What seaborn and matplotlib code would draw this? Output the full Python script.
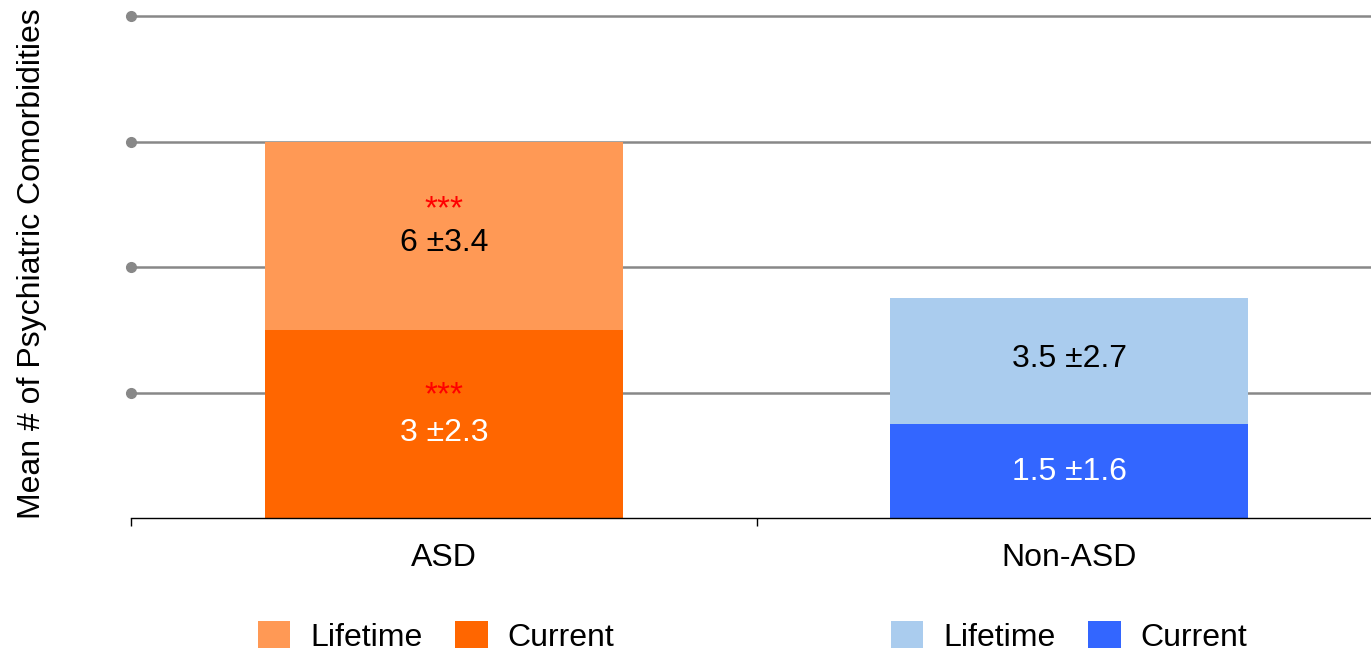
import matplotlib
matplotlib.use('Agg')
import matplotlib.pyplot as plt
from matplotlib.patches import Patch
import seaborn as sns

groups = ['ASD', 'Non-ASD']
lifetime_mean = [6, 3.5]
lifetime_sd = [3.4, 2.7]
current_mean = [3, 1.5]
current_sd = [2.3, 1.6]
sig_stars = ['***', '']

lifetime_colors = ['#FF9955', '#AACCEE']
current_colors = ['#FF6600', '#3366FF']

sns.set_style('white')
plt.rcParams['font.family'] = ['Liberation Sans', 'DejaVu Sans']
plt.rcParams['text.color'] = 'black'
plt.rcParams['xtick.color'] = 'black'
plt.rcParams['xtick.labelcolor'] = 'black'

fig = plt.figure(figsize=(13.71, 6.53), dpi=100)
ax = fig.add_axes([131 / 1371, 135 / 653, 1251 / 1371, 502 / 653])

# lifetime drawn full height, current on top of it
sns.barplot(x=groups, y=lifetime_mean, hue=groups, palette=lifetime_colors,
            width=0.573, saturation=1, legend=False, ax=ax, zorder=2,
            linewidth=0, edgecolor='none')
sns.barplot(x=groups, y=current_mean, hue=groups, palette=current_colors,
            width=0.573, saturation=1, legend=False, ax=ax, zorder=3,
            linewidth=0, edgecolor='none')

ax.set_xlim(-0.5, 1.5)
ax.set_ylim(0, 8)

grid_y = [2, 4, 6, 8]
ax.hlines(grid_y, -0.5, 1.5, color='#888888', lw=1.8, zorder=1, clip_on=False)
ax.plot([-0.5] * len(grid_y), grid_y, 'o', color='#888888', ms=7,
        zorder=1, clip_on=False)

for sp in ['left', 'right', 'top']:
    ax.spines[sp].set_visible(False)
ax.spines['bottom'].set_color('black')
ax.spines['bottom'].set_linewidth(1.0)
ax.spines['bottom'].set_zorder(4)

ax.set_yticks([])
ax.set_xticks([0, 1])
ax.set_xticklabels(groups, fontsize=23, color='black')
ax.set_xticks([-0.5, 0.5, 1.5], minor=True)
ax.tick_params(axis='x', which='major', length=0, pad=18)
ax.tick_params(axis='x', which='minor', length=6, width=1, color='black',
               direction='out', bottom=True)
ax.set_xlabel('')
ax.set_ylabel('')

# value labels
for i, g in enumerate(groups):
    lt_mid = (lifetime_mean[i] + current_mean[i]) / 2
    cu_mid = current_mean[i] / 2
    if sig_stars[i]:
        ax.text(i, lt_mid + 0.42, sig_stars[i], color='red', fontsize=24,
                ha='center', va='center', zorder=5)
        ax.text(i, cu_mid + 0.45, sig_stars[i], color='red', fontsize=24,
                ha='center', va='center', zorder=5)
        lt_y, cu_y = lt_mid - 0.12, cu_mid - 0.14
    else:
        lt_y, cu_y = lt_mid + 0.04, cu_mid - 0.01
    ax.text(i, lt_y, f'{lifetime_mean[i]:g} \u00b1{lifetime_sd[i]}',
            color='black', fontsize=23, ha='center', va='center', zorder=5)
    ax.text(i, cu_y, f'{current_mean[i]:g} \u00b1{current_sd[i]}',
            color='white', fontsize=23, ha='center', va='center', zorder=5)

fig.text(32 / 1371, 0.596, 'Mean # of Psychiatric Comorbidities',
         rotation=90, ha='center', va='center', fontsize=23, color='black')

legend_x = [436 / 1371, 1069 / 1371]
for i in range(len(groups)):
    handles = [Patch(facecolor=lifetime_colors[i], edgecolor='none', label='Lifetime'),
               Patch(facecolor=current_colors[i], edgecolor='none', label='Current')]
    fig.legend(handles=handles, loc='center', ncol=2, frameon=False,
               bbox_to_anchor=(legend_x[i], 16 / 653), fontsize=23,
               handlelength=1.03, handleheight=0.92, handletextpad=0.63,
               columnspacing=1.0, borderpad=0, labelcolor='black')

fig.savefig('out.png', dpi=100)
